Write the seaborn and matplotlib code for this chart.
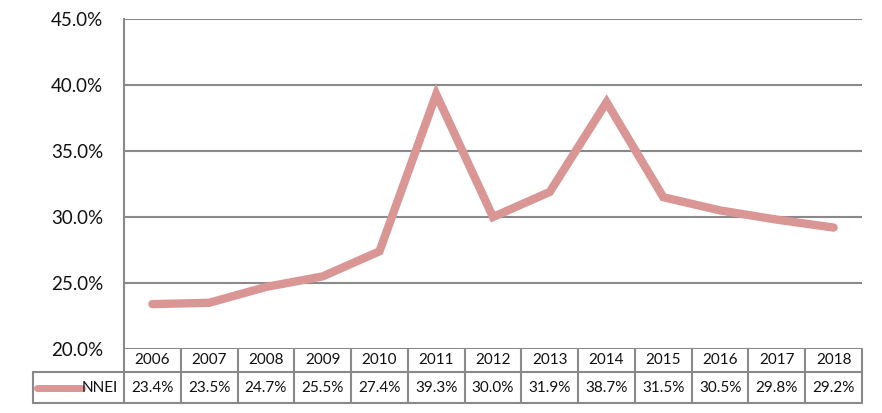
import matplotlib
matplotlib.use('Agg')
import matplotlib.pyplot as plt
import matplotlib.transforms as mtransforms
import pandas as pd
import seaborn as sns

# Data
years = ['2006', '2007', '2008', '2009', '2010', '2011', '2012',
         '2013', '2014', '2015', '2016', '2017', '2018']
nnei = [23.4, 23.5, 24.7, 25.5, 27.4, 39.3, 30.0, 31.9, 38.7, 31.5, 30.5, 29.8, 29.2]
series_name = 'NNEI'
y_ticks = [20, 25, 30, 35, 40, 45]

line_color = '#D99694'
grid_color = '#898989'

sns.set_style('white')
plt.rcParams['font.family'] = ['Lato', 'DejaVu Sans']

df = pd.DataFrame({'pos': range(len(years)), 'value': nnei})

fig = plt.figure(figsize=(8.82, 4.13), dpi=100)
ax = fig.add_axes([124 / 882, 1 - 349 / 413, 738 / 882, 330 / 413])

sns.lineplot(data=df, x='pos', y='value', ax=ax, color=line_color,
             linewidth=6, solid_capstyle='round', solid_joinstyle='miter')

ax.set_xlim(-0.5, len(years) - 0.5)
ax.set_ylim(20, 45)
ax.set_yticks(y_ticks)
ax.set_yticklabels([f'{t:.1f}%' for t in y_ticks], fontsize=13.5)
ax.set_xticks([])
ax.set_xlabel('')
ax.set_ylabel('')
ax.tick_params(axis='y', length=0, pad=15, labelcolor='#111111')
for t in y_ticks:
    ax.axhline(t, color=grid_color, lw=1.5, zorder=0)
for side in ['top', 'right', 'bottom']:
    ax.spines[side].set_visible(False)
ax.spines['left'].set_color(grid_color)
ax.spines['left'].set_linewidth(1.5)

# Data table below the axis
tr = mtransforms.blended_transform_factory(ax.transData, ax.transAxes)
y_top, y_mid, y_bot = 0.0, -23 / 330, -54 / 330
x_first = -2.10
x_end = len(years) - 0.5
kw = dict(color=grid_color, lw=1.5, transform=tr, clip_on=False)

ax.plot([x_first, x_end], [y_mid, y_mid], **kw)
ax.plot([x_first, x_end], [y_bot, y_bot], **kw)
ax.plot([x_first, x_first], [y_mid, y_bot], **kw)
for i in range(len(years) + 1):
    ax.plot([i - 0.5, i - 0.5], [y_top, y_bot], **kw)

for i, (yr, v) in enumerate(zip(years, nnei)):
    ax.text(i, (y_top + y_mid) / 2, yr, transform=tr, ha='center', va='center',
            fontsize=11, color='#111111')
    ax.text(i, (y_mid + y_bot) / 2, f'{v:.1f}%', transform=tr, ha='center',
            va='center', fontsize=11, color='#111111')

# legend key
ax.plot([-2.03, -1.24], [(y_mid + y_bot) / 2] * 2, color=line_color, lw=5,
        solid_capstyle='round', transform=tr, clip_on=False)
ax.text(-0.61, (y_mid + y_bot) / 2, series_name, transform=tr, ha='right',
        va='center', fontsize=11, color='#111111')

fig.savefig('out.png', dpi=100)
